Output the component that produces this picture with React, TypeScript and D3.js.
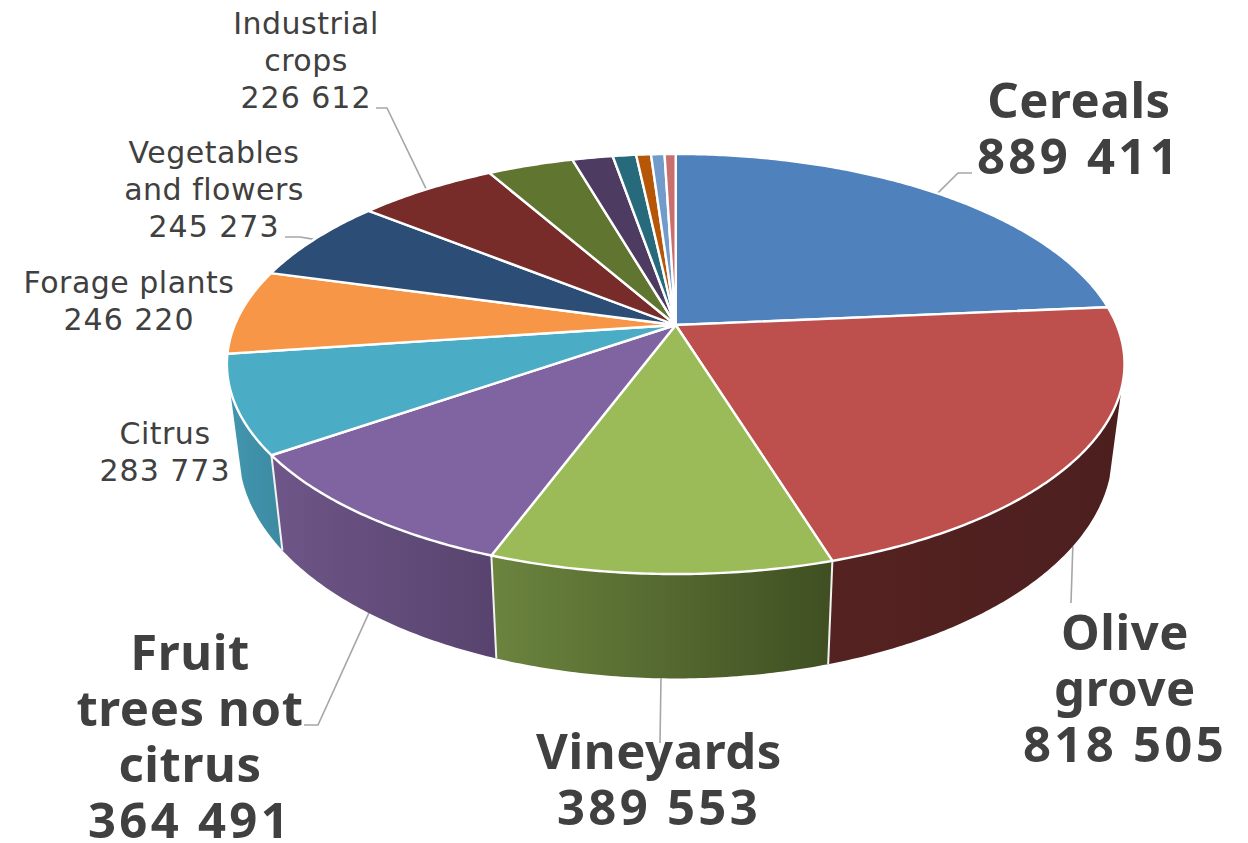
import React from "react";
import * as d3 from "d3";

const categories = ["Cereals","Olive grove","Vineyards","Fruit trees not citrus","Citrus","Forage plants","Vegetables and flowers","Industrial crops","Other 1","Other 2","Other 3","Other 4","Other 5","Other 6"];
const values = [889411,818505,389553,364491,283773,246220,245273,226612,140000,66000,38000,24000,22000,18000];
const topColors = ["#4f81bd","#bd4f4c","#9bbb59","#8064a2","#4bacc6","#f79646","#2c4d75","#772c2a","#5f7530","#4d3b62","#276a7c","#b65708","#729aca","#c96f6c"];
const wallLeft = ["#4f81bd","#542221","#6b843e","#6e5688","#4196ae"];
const wallRight = ["#4f81bd","#4c1f1e","#3f4f22","#58436e","#3c8aa2"];

const labelLines = [
  ["Cereals","889 411"],["Olive","grove","818 505"],["Vineyards","389 553"],["Fruit","trees not","citrus","364 491"],
  ["Citrus","283 773"],["Forage plants","246 220"],["Vegetables","and flowers","245 273"],["Industrial","crops","226 612"],
];
const labelX = [1079,1125,659,190,165,129,214,306];
const labelY = [118,650,769,670,444,293,163,34];
const leaderBends: [number,number][][] = [
  [[958,173],[972,173]],[[1071,603]],[[660,743]],[[318,725],[304,725]],[],[],[[300,237],[285,237]],[[387,108],[376,108]],
];
const leaderFront = [false,true,true,true,false,false,false,false];

const X0=675.7,Y0=325,A=441,B=202.8,K=0.1857,T=0.027,H=85;
function project(theta:number,lower:boolean):[number,number]{
  const u=Math.sin(theta),v=Math.cos(theta),w=1+K*v;
  let x=X0+A*u/w,y=Y0-B*v/w;
  if(lower){x+=T*(X0-x);y+=H/w;}
  return [x,y];
}
function rim(a0:number,a1:number,lower=false){
  const n=Math.max(2,Math.ceil((a1-a0)/0.01));
  return d3.range(n+1).map(i=>project(a0+(a1-a0)*i/n,lower));
}
const line=d3.line();
const pie=d3.pie<number>().sort(null)(values);
const deg=Math.PI/180;
const wallMin=107*deg,wallMax=253*deg;
const isNumber=(s:string)=>/^[0-9 ]+$/.test(s);

export default function App(){
  const walls=[1,4,3,2].map(i=>{
    const a0=Math.max(pie[i].startAngle,wallMin),a1=Math.min(pie[i].endAngle,wallMax);
    return {i,d:line([...rim(a0,a1),...rim(a0,a1,true).reverse()])+"Z"};
  });
  const seps=[1,2,3].map(i=>[project(pie[i].endAngle,false),project(pie[i].endAngle,true)] as [number,number][]);
  return (
    <svg width={1248} height={843} style={{position:"absolute",left:0,top:0,background:"#fff"}}>
      <defs>
        {walls.map(({i})=>(
          <linearGradient key={i} id={`w${i}`} x1="0" x2="1" y1="0" y2="0">
            <stop offset="0" stopColor={wallLeft[i]}/>
            <stop offset="1" stopColor={wallRight[i]}/>
          </linearGradient>
        ))}
      </defs>
      {labelLines.map((_,i)=>{
        const bends=leaderBends[i];
        if(!bends.length) return null;
        const mid=(pie[i].startAngle+pie[i].endAngle)/2;
        return <path key={i} d={line([project(mid,leaderFront[i]),...bends])!} fill="none" stroke="#a6a6a6" strokeWidth={1.6}/>;
      })}
      {walls.map(({i,d})=><path key={i} d={d} fill={`url(#w${i})`}/>)}
      {seps.map((s,i)=><path key={i} d={line(s)!} stroke="#f2f2f2" strokeWidth={2} fill="none"/>)}
      {pie.map((p,i)=>(
        <path key={i} d={line([[X0,Y0],...rim(p.startAngle,p.endAngle)])+"Z"} fill={topColors[i]} stroke="#fff" strokeWidth={2.4} strokeLinejoin="round"/>
      ))}
      {labelLines.map((ls,i)=>{
        const big=i<4;
        return (
          <text key={i} textAnchor="middle" fill="#404040" fontFamily={big?"'Noto Sans'":"'DejaVu Sans'"} fontWeight={big?700:400} fontSize={big?49:30}>
            {ls.map((t,j)=><tspan key={j} x={labelX[i]} y={labelY[i]+j*(big?56:37)} letterSpacing={big?(isNumber(t)?3.3:0.6):(isNumber(t)?1:0.5)}>{t}</tspan>)}
          </text>
        );
      })}
    </svg>
  );
}
